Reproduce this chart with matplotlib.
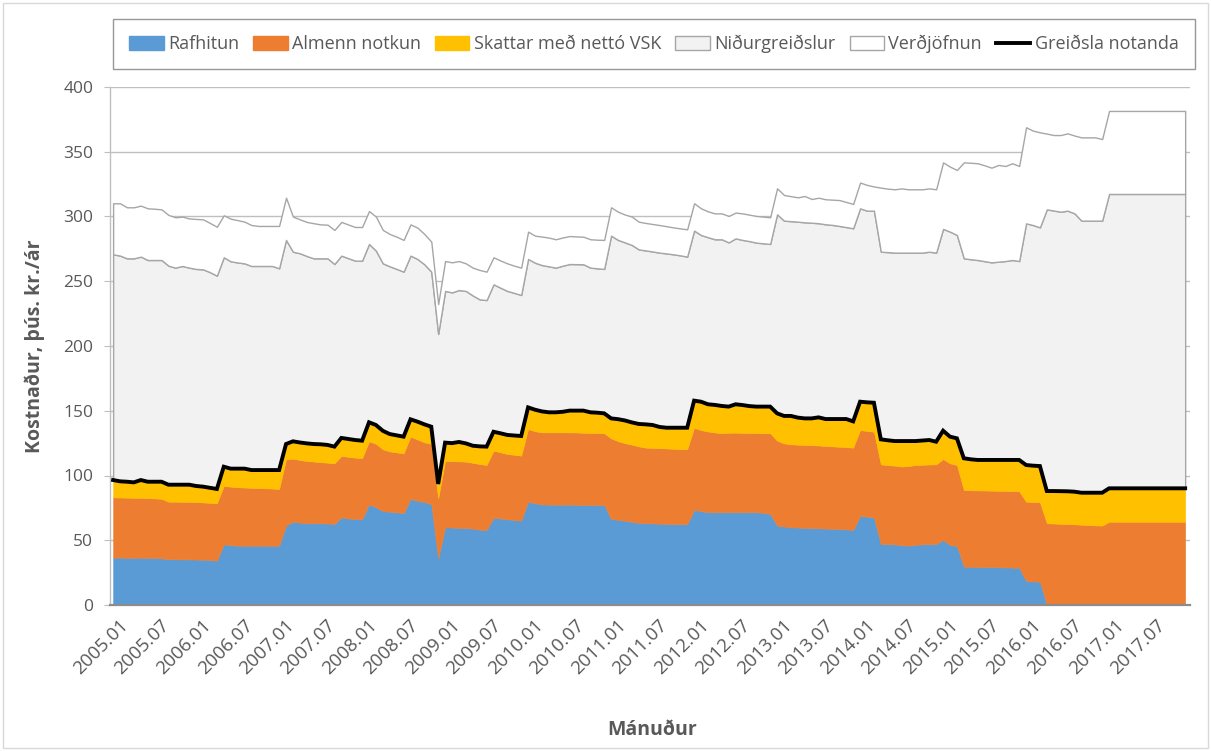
import matplotlib
matplotlib.use("Agg")
import matplotlib.pyplot as plt
from matplotlib.patches import Patch, Rectangle
from matplotlib.lines import Line2D
from matplotlib.transforms import ScaledTranslation
import numpy as np

plt.rcParams['font.family'] = ['Open Sans', 'DejaVu Sans']

# Months 2005.01 .. 2017.12 (category axis)
months = [f"{y}.{m:02d}" for y in range(2005, 2018) for m in range(1, 13)]
tick_labels = ["2005.01", "2005.07", "2006.01", "2006.07", "2007.01", "2007.07",
               "2008.01", "2008.07", "2009.01", "2009.07", "2010.01", "2010.07",
               "2011.01", "2011.07", "2012.01", "2012.07", "2013.01", "2013.07",
               "2014.01", "2014.07", "2015.01", "2015.07", "2016.01", "2016.07",
               "2017.01", "2017.07"]

# Stacked levels (þús. kr./ár), one row per year
# Rafhitun (blue, from 0)
rafhitun = [
    36.6, 36.6, 36.5, 36.5, 36.5, 36.4, 36.3, 36.0, 35.3, 35.3, 35.2, 35.2,
    35.1, 35.0, 34.8, 34.2, 46.8, 46.3, 45.8, 45.8, 45.8, 45.8, 45.8, 45.8,
    45.8, 61.3, 64.3, 63.6, 63.1, 63.1, 63.1, 63.0, 62.5, 67.7, 66.8, 66.4,
    66.2, 77.7, 75.5, 72.6, 72.0, 71.6, 70.8, 81.9, 80.5, 79.5, 78.0, 36.0,
    60.0, 59.8, 59.6, 59.4, 59.0, 58.2, 57.9, 67.4, 66.8, 66.2, 65.7, 65.1,
    79.8, 78.5, 77.7, 77.5, 77.5, 77.5, 77.5, 77.4, 77.3, 77.2, 77.2, 77.2,
    66.4, 65.8, 65.1, 64.2, 63.5, 63.1, 63.0, 62.8, 62.7, 62.5, 62.4, 62.3,
    73.4, 72.5, 71.6, 71.6, 71.6, 71.6, 71.6, 71.6, 71.6, 71.6, 71.2, 70.3,
    61.3, 60.6, 60.0, 59.8, 59.6, 59.4, 59.2, 59.0, 58.9, 58.7, 58.4, 57.9,
    68.7, 68.2, 67.7, 47.1, 47.0, 46.8, 46.2, 45.8, 46.5, 46.8, 47.0, 47.1,
    50.2, 46.3, 45.6, 29.6, 29.5, 29.4, 29.3, 29.2, 29.1, 29.0, 28.9, 28.8,
    18.5, 18.2, 18.0, 0.0, 0.0, 0.0, 0.0, 0.0, 0.0, 0.0, 0.0, 0.0,
    0.0, 0.0, 0.0, 0.0, 0.0, 0.0, 0.0, 0.0, 0.0, 0.0, 0.0, 0.0,
]
# Top of Almenn notkun (Rafhitun + Almenn notkun)
almenn_top = [
    83.1, 83.0, 82.9, 82.8, 82.7, 82.5, 82.3, 82.0, 79.8, 79.8, 79.7, 79.6,
    79.5, 79.2, 78.9, 78.5, 91.9, 91.4, 90.9, 90.7, 90.5, 90.3, 90.1, 89.9,
    89.6, 112.5, 113.0, 112.0, 111.2, 110.8, 110.3, 109.9, 109.4, 115.1, 114.4, 113.8,
    113.3, 126.4, 124.5, 120.2, 118.6, 117.8, 117.1, 130.0, 127.8, 125.6, 124.5, 82.4,
    111.2, 111.0, 110.9, 110.7, 109.8, 108.9, 108.1, 119.2, 117.9, 116.6, 116.0, 115.3,
    135.9, 134.2, 133.3, 133.3, 133.3, 133.3, 133.3, 133.2, 133.0, 132.8, 132.7, 132.6,
    128.7, 126.5, 125.0, 123.8, 122.5, 121.5, 121.3, 121.1, 120.9, 120.6, 120.4, 120.2,
    136.9, 135.1, 134.0, 133.2, 132.6, 133.0, 133.1, 132.9, 132.8, 132.7, 132.6, 132.6,
    126.9, 124.8, 124.1, 123.8, 123.6, 123.4, 123.2, 122.8, 122.5, 122.2, 121.9, 121.5,
    135.1, 134.4, 133.8, 108.6, 108.0, 107.6, 106.9, 107.3, 108.1, 108.3, 108.5, 108.6,
    112.7, 109.4, 108.1, 88.8, 88.6, 88.5, 88.4, 88.3, 88.2, 88.1, 88.0, 87.8,
    79.8, 79.5, 79.3, 63.1, 62.9, 62.7, 62.5, 62.3, 62.0, 61.7, 61.5, 61.3,
    64.3, 64.3, 64.3, 64.3, 64.3, 64.3, 64.3, 64.3, 64.3, 64.3, 64.3, 64.3,
]
# Greiðsla notanda (= top of Skattar með nettó VSK)
greidsla_notanda = [
    96.5, 95.5, 95.2, 94.7, 96.5, 95.2, 95.2, 95.2, 92.9, 92.9, 92.9, 92.9,
    91.9, 91.4, 90.5, 89.6, 106.8, 105.3, 105.3, 105.3, 104.2, 104.2, 104.2, 104.2,
    104.2, 124.3, 126.4, 125.5, 124.8, 124.3, 124.1, 123.6, 122.3, 129.0, 128.2, 127.4,
    126.9, 141.1, 139.0, 134.5, 132.0, 131.0, 130.0, 143.4, 141.6, 139.5, 137.7, 93.5,
    125.4, 125.0, 125.9, 124.8, 123.0, 122.5, 122.3, 133.8, 132.6, 131.3, 130.9, 130.5,
    152.6, 150.8, 149.5, 148.8, 148.8, 149.2, 150.1, 150.1, 150.1, 148.8, 148.5, 148.0,
    144.1, 143.5, 142.5, 141.0, 139.8, 139.5, 139.0, 137.5, 136.9, 136.9, 136.9, 136.9,
    157.8, 157.0, 155.0, 154.5, 153.7, 153.2, 155.0, 154.4, 153.6, 153.2, 153.2, 153.2,
    148.0, 146.0, 146.0, 144.7, 144.1, 144.1, 144.9, 143.6, 143.6, 143.6, 143.6, 141.8,
    157.0, 156.5, 156.2, 127.9, 127.2, 126.6, 126.6, 126.6, 126.6, 127.0, 127.4, 126.1,
    134.6, 130.0, 128.7, 113.3, 112.5, 112.0, 112.0, 112.0, 112.0, 112.0, 112.0, 112.0,
    108.1, 107.6, 107.3, 88.0, 88.0, 87.9, 87.8, 87.5, 86.7, 86.7, 86.7, 86.7,
    90.1, 90.1, 90.1, 90.1, 90.1, 90.1, 90.1, 90.1, 90.1, 90.1, 90.1, 90.1,
]
# Top of Niðurgreiðslur
nidurgreidslur_top = [
    270.8, 269.8, 267.7, 267.7, 269.0, 266.4, 266.4, 266.4, 262.0, 260.5, 261.8, 260.5,
    259.5, 259.2, 257.0, 254.3, 268.5, 265.4, 264.5, 263.8, 261.8, 261.8, 261.8, 261.8,
    260.0, 281.9, 272.8, 271.6, 269.5, 267.7, 267.7, 267.7, 263.3, 269.8, 267.8, 265.9,
    265.9, 278.8, 273.6, 263.8, 261.5, 259.5, 257.4, 269.8, 267.2, 263.1, 257.4, 209.3,
    242.5, 241.4, 243.2, 242.5, 239.0, 236.0, 235.5, 247.6, 245.0, 242.5, 241.0, 239.4,
    267.2, 264.3, 262.5, 261.5, 260.5, 262.0, 263.3, 263.2, 263.1, 260.5, 260.0, 259.5,
    285.2, 281.9, 280.0, 278.0, 274.6, 273.8, 273.0, 272.1, 271.5, 270.8, 270.0, 269.0,
    289.1, 285.7, 284.0, 282.4, 282.4, 280.0, 283.1, 281.9, 281.0, 279.8, 279.3, 278.8,
    301.7, 296.8, 296.4, 296.0, 295.5, 295.2, 294.8, 294.0, 293.5, 292.7, 291.8, 290.9,
    306.3, 304.5, 304.5, 272.8, 272.5, 272.1, 272.1, 272.1, 272.1, 272.1, 272.8, 272.1,
    290.4, 288.3, 285.7, 267.7, 267.0, 266.4, 265.5, 264.6, 265.1, 265.6, 266.4, 265.6,
    294.7, 293.4, 291.6, 305.5, 304.6, 303.7, 304.5, 302.4, 296.8, 296.8, 296.8, 296.8,
    317.4, 317.4, 317.4, 317.4, 317.4, 317.4, 317.4, 317.4, 317.4, 317.4, 317.4, 317.4,
]
# Top of Verðjöfnun
verdjofnun_top = [
    310.2, 310.2, 307.1, 307.1, 308.4, 306.3, 306.0, 305.5, 301.2, 299.4, 299.9, 298.5,
    298.1, 297.8, 295.0, 292.1, 300.9, 298.3, 297.2, 296.0, 293.4, 292.7, 292.7, 292.7,
    292.7, 314.5, 299.9, 297.8, 295.8, 294.8, 293.9, 293.7, 289.6, 295.8, 293.8, 291.9,
    291.9, 304.2, 299.9, 289.6, 286.5, 284.4, 281.9, 293.9, 291.4, 286.5, 280.6, 232.4,
    265.6, 264.6, 265.6, 263.8, 260.5, 258.7, 257.4, 268.5, 266.0, 263.8, 262.0, 260.5,
    288.3, 285.2, 284.5, 283.7, 282.4, 283.8, 284.9, 284.6, 284.4, 282.4, 282.1, 281.9,
    307.1, 303.7, 301.5, 299.9, 296.0, 295.0, 294.2, 293.4, 292.5, 291.6, 290.8, 290.1,
    310.2, 306.3, 304.0, 302.4, 302.4, 300.4, 303.0, 302.4, 301.4, 300.4, 299.9, 299.4,
    321.8, 316.6, 315.7, 314.8, 315.8, 313.5, 314.5, 313.3, 313.0, 312.7, 311.2, 309.7,
    326.2, 324.4, 323.2, 322.3, 321.5, 321.0, 321.7, 321.0, 321.0, 321.0, 321.7, 321.0,
    341.8, 338.5, 335.9, 341.8, 341.5, 341.1, 339.5, 337.7, 339.8, 339.0, 341.1, 339.0,
    368.9, 366.3, 365.0, 364.0, 362.9, 362.9, 364.2, 362.5, 361.1, 361.1, 361.1, 359.8,
    381.5, 381.5, 381.5, 381.5, 381.5, 381.5, 381.5, 381.5, 381.5, 381.5, 381.5, 381.5,
]

labels = ["Rafhitun", "Almenn notkun", "Skattar með nettó VSK",
          "Niðurgreiðslur", "Verðjöfnun", "Greiðsla notanda"]

C_BLUE, C_ORANGE, C_YELLOW = "#5B9BD5", "#ED7D31", "#FFC000"
C_GRAYF, C_EDGE = "#F2F2F2", "#A6A6A6"
TXT = "#595959"

W, H = 1211, 751
fig = plt.figure(figsize=(W / 100, H / 100), dpi=100)
ax = fig.add_axes([110 / W, 1 - 605 / H, 1080 / W, 518 / H])

x = np.arange(len(months))
ax.fill_between(x, 0, rafhitun, facecolor=C_BLUE, edgecolor=C_BLUE, lw=0.4, zorder=2)
ax.fill_between(x, rafhitun, almenn_top, facecolor=C_ORANGE, edgecolor=C_ORANGE, lw=0.4, zorder=2)
ax.fill_between(x, almenn_top, greidsla_notanda, facecolor=C_YELLOW, edgecolor=C_YELLOW, lw=0.4, zorder=2)
ax.fill_between(x, greidsla_notanda, nidurgreidslur_top, facecolor=C_GRAYF, edgecolor=C_EDGE, lw=1.0, zorder=2.1)
ax.fill_between(x, nidurgreidslur_top, verdjofnun_top, facecolor="white", edgecolor=C_EDGE, lw=1.0, zorder=2.2)
ax.plot(x, greidsla_notanda, color="black", lw=2.8, zorder=4, solid_joinstyle="miter")

ax.set_xlim(-0.45, 155.7)
ax.set_ylim(0, 400)
ax.set_yticks(np.arange(0, 401, 50))
ax.set_xticks(np.arange(0, len(months), 6))
ax.set_xticklabels(tick_labels, rotation=45, ha="right", va="top",
                   rotation_mode="anchor", fontsize=13.5, color=TXT)
ax.tick_params(axis="x", length=0, pad=8)
# nudge rotated labels slightly right, as in the reference
for lab in ax.get_xticklabels():
    lab.set_transform(lab.get_transform() + ScaledTranslation(6 / 100, 0, fig.dpi_scale_trans))
ax.tick_params(axis="y", length=4, width=0.8, color="#BFBFBF", labelsize=12.5,
               labelcolor=TXT, pad=8)
ax.set_axisbelow(True)
ax.yaxis.grid(True, color="#BFBFBF", lw=1.0, zorder=0)
for s in ("top", "right"):
    ax.spines[s].set_visible(False)
ax.spines["left"].set_color("#BFBFBF")
ax.spines["left"].set_linewidth(1.0)
ax.spines["bottom"].set_color("#8C8C8C")
ax.spines["bottom"].set_linewidth(1.6)
ax.spines["bottom"].set_zorder(5)

fig.text(35 / W, 1 - 346 / H, "Kostnaður, þús. kr./ár", rotation=90,
         ha="center", va="center", fontsize=14, fontweight="bold", color=TXT)
fig.text(652 / W, 1 - 730 / H, "Mánuður", ha="center", va="center",
         fontsize=14, fontweight="bold", color=TXT)

handles = [Patch(facecolor=C_BLUE, edgecolor=C_BLUE),
           Patch(facecolor=C_ORANGE, edgecolor=C_ORANGE),
           Patch(facecolor=C_YELLOW, edgecolor=C_YELLOW),
           Patch(facecolor=C_GRAYF, edgecolor=C_EDGE),
           Patch(facecolor="white", edgecolor=C_EDGE),
           Line2D([0], [0], color="black", lw=2.8)]
leg = fig.legend(handles, labels, loc="center",
                 bbox_to_anchor=(113 / W, 1 - 71 / H, 1082 / W, 54 / H),
                 mode="expand", ncol=6, frameon=True, fancybox=False,
                 edgecolor="#7F7F7F", fontsize=13, handlelength=1.9,
                 handleheight=0.75, handletextpad=0.25, borderpad=0.9,
                 borderaxespad=0, labelcolor=TXT)
leg.get_frame().set_linewidth(1.0)

fig.add_artist(Rectangle((3 / W, 3 / H), 1 - 6 / W, 1 - 6 / H,
                         transform=fig.transFigure, fill=False,
                         edgecolor="#D9D9D9", lw=1.0))

fig.savefig("out.png", dpi=100)
